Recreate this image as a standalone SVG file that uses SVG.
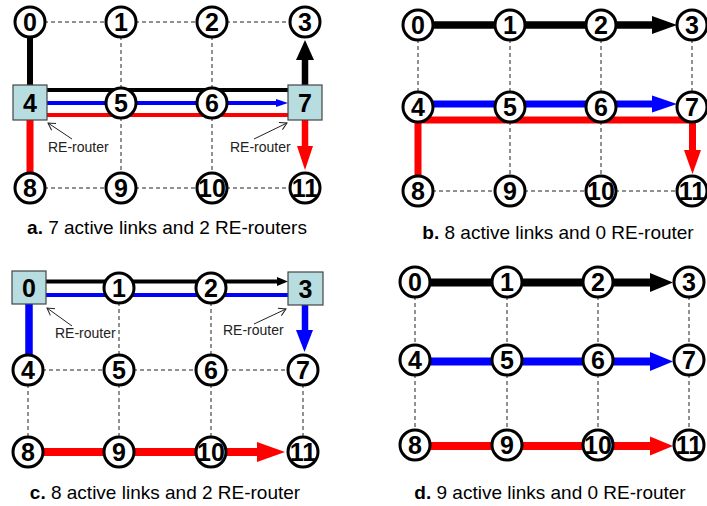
<svg xmlns="http://www.w3.org/2000/svg" width="707" height="506" viewBox="0 0 707 506">
<style>
.bg{fill:#fff}
.n circle{fill:#fff;stroke:#000;stroke-width:3}
.n rect{fill:#B7DDE0;stroke:#444;stroke-width:1.2}
.n text{font-family:"Liberation Sans",Arial,sans-serif;font-weight:bold;font-size:25px;text-anchor:middle;fill:#000}
.d{stroke:#222;stroke-width:1;stroke-dasharray:4,3;fill:none}
.k{stroke:#000;fill:none}
.b{stroke:#0000FF;fill:none}
.r{stroke:#FF0000;fill:none}
.hk{fill:#000}
.hb{fill:#0000FF}
.hr{fill:#FF0000}
.lbl{font-family:"Liberation Sans",Arial,sans-serif;font-size:14px;fill:#222}
.ptr{stroke:#222;stroke-width:1;fill:none;marker-end:url(#open)}
.cap{font-family:"Liberation Sans",Arial,sans-serif;font-size:19px;text-anchor:middle;fill:#000}
</style>
<defs>
<marker id="open" markerUnits="userSpaceOnUse" viewBox="-9 -6 11 12" refX="0" refY="0" markerWidth="11" markerHeight="12" orient="auto">
<path d="M-7,-4 L0,0 L-7,4" fill="none" stroke="#222" stroke-width="1"/>
</marker>
</defs>
<rect class="bg" x="0" y="0" width="707" height="506"/>

<!-- ===== Panel a ===== -->
<g id="panel-a">
<g id="a-connectors">
<line class="d" x1="30" y1="22" x2="121" y2="22"/>
<line class="d" x1="121" y1="22" x2="212" y2="22"/>
<line class="d" x1="212" y1="22" x2="305" y2="22"/>
<line class="d" x1="121" y1="22" x2="121" y2="103"/>
<line class="d" x1="212" y1="22" x2="212" y2="103"/>
<line class="d" x1="121" y1="103" x2="121" y2="188"/>
<line class="d" x1="212" y1="103" x2="212" y2="188"/>
<line class="d" x1="30" y1="188" x2="121" y2="188"/>
<line class="d" x1="121" y1="188" x2="212" y2="188"/>
<line class="d" x1="212" y1="188" x2="305" y2="188"/>
<line class="k" stroke-width="6" x1="30" y1="36" x2="30" y2="86"/>
<line class="k" stroke-width="4" x1="47" y1="90" x2="288" y2="90"/>
<line class="b" stroke-width="4" x1="47" y1="103" x2="277" y2="103"/>
<polygon class="hb" points="276,99 288,103 276,107"/>
<line class="r" stroke-width="4" x1="47" y1="115" x2="288" y2="115"/>
<line class="k" stroke-width="6.5" x1="305" y1="86" x2="305" y2="59"/>
<polygon class="hk" points="296,60 305,40 314,60"/>
<line class="r" stroke-width="7" x1="30" y1="119" x2="30" y2="174"/>
<line class="r" stroke-width="6.5" x1="305" y1="119" x2="305" y2="147"/>
<polygon class="hr" points="297,146 313,146 305,170"/>
<line class="ptr" x1="72" y1="139" x2="48" y2="123"/>
<line class="ptr" x1="254" y1="139" x2="287" y2="123"/>
</g>
<g id="a-n0" class="n"><circle cx="30" cy="22" r="15"/><text x="30" y="31">0</text></g>
<g id="a-n1" class="n"><circle cx="121" cy="22" r="15"/><text x="121" y="31">1</text></g>
<g id="a-n2" class="n"><circle cx="212" cy="22" r="15"/><text x="212" y="31">2</text></g>
<g id="a-n3" class="n"><circle cx="305" cy="22" r="15"/><text x="305" y="31">3</text></g>
<g id="a-n4" class="n"><rect x="13" y="85" width="34" height="35"/><text x="30" y="112">4</text></g>
<g id="a-n5" class="n"><circle cx="121" cy="103" r="15"/><text x="121" y="112">5</text></g>
<g id="a-n6" class="n"><circle cx="212" cy="103" r="15"/><text x="212" y="112">6</text></g>
<g id="a-n7" class="n"><rect x="288" y="85" width="34" height="35"/><text x="305" y="112">7</text></g>
<g id="a-n8" class="n"><circle cx="30" cy="188" r="15"/><text x="30" y="197">8</text></g>
<g id="a-n9" class="n"><circle cx="121" cy="188" r="15"/><text x="121" y="197">9</text></g>
<g id="a-n10" class="n"><circle cx="212" cy="188" r="15"/><text x="212" y="197">10</text></g>
<g id="a-n11" class="n"><circle cx="305" cy="188" r="15"/><text x="305" y="197">11</text></g>
<text class="lbl" x="48" y="152">RE-router</text>
<text class="lbl" x="230" y="152">RE-router</text>
<text class="cap" x="167" y="234"><tspan font-weight="bold">a.</tspan> 7 active links and 2 RE-routers</text>
</g>

<!-- ===== Panel b ===== -->
<g id="panel-b">
<g id="b-connectors">
<line class="d" x1="418" y1="25" x2="418" y2="107"/>
<line class="d" x1="510" y1="25" x2="510" y2="107"/>
<line class="d" x1="601" y1="25" x2="601" y2="107"/>
<line class="d" x1="692" y1="25" x2="692" y2="107"/>
<line class="d" x1="510" y1="107" x2="510" y2="191"/>
<line class="d" x1="601" y1="107" x2="601" y2="191"/>
<line class="d" x1="418" y1="191" x2="510" y2="191"/>
<line class="d" x1="510" y1="191" x2="601" y2="191"/>
<line class="d" x1="601" y1="191" x2="692" y2="191"/>
<line class="k" stroke-width="7.5" x1="418" y1="25" x2="653" y2="25"/>
<polygon class="hk" points="652,16 677,25 652,34"/>
<line class="b" stroke-width="7" x1="418" y1="104" x2="653" y2="104"/>
<polygon class="hb" points="652,95.5 677,104 652,112.5"/>
<path class="r" stroke-width="7" stroke-linejoin="miter" d="M418,177 L418,120 L692.5,120 L692.5,151"/>
<polygon class="hr" points="684,150 701,150 692.5,174"/>
</g>
<g id="b-n0" class="n"><circle cx="418" cy="25" r="15"/><text x="418" y="34">0</text></g>
<g id="b-n1" class="n"><circle cx="510" cy="25" r="15"/><text x="510" y="34">1</text></g>
<g id="b-n2" class="n"><circle cx="601" cy="25" r="15"/><text x="601" y="34">2</text></g>
<g id="b-n3" class="n"><circle cx="692" cy="25" r="15"/><text x="692" y="34">3</text></g>
<g id="b-n4" class="n"><circle cx="418" cy="107" r="15"/><text x="418" y="116">4</text></g>
<g id="b-n5" class="n"><circle cx="510" cy="107" r="15"/><text x="510" y="116">5</text></g>
<g id="b-n6" class="n"><circle cx="601" cy="107" r="15"/><text x="601" y="116">6</text></g>
<g id="b-n7" class="n"><circle cx="692" cy="107" r="15"/><text x="692" y="116">7</text></g>
<g id="b-n8" class="n"><circle cx="418" cy="191" r="15"/><text x="418" y="200">8</text></g>
<g id="b-n9" class="n"><circle cx="510" cy="191" r="15"/><text x="510" y="200">9</text></g>
<g id="b-n10" class="n"><circle cx="601" cy="191" r="15"/><text x="601" y="200">10</text></g>
<g id="b-n11" class="n"><circle cx="692" cy="191" r="15"/><text x="692" y="200">11</text></g>
<text class="cap" x="558" y="239"><tspan font-weight="bold">b.</tspan> 8 active links and 0 RE-router</text>
</g>

<!-- ===== Panel c ===== -->
<g id="panel-c">
<g id="c-connectors">
<line class="d" x1="28" y1="370" x2="119" y2="370"/>
<line class="d" x1="119" y1="370" x2="211" y2="370"/>
<line class="d" x1="211" y1="370" x2="303" y2="370"/>
<line class="d" x1="119" y1="288" x2="119" y2="370"/>
<line class="d" x1="211" y1="288" x2="211" y2="370"/>
<line class="d" x1="28" y1="370" x2="28" y2="452"/>
<line class="d" x1="119" y1="370" x2="119" y2="452"/>
<line class="d" x1="211" y1="370" x2="211" y2="452"/>
<line class="d" x1="303" y1="370" x2="303" y2="452"/>
<line class="k" stroke-width="4" x1="46" y1="281.5" x2="278" y2="281.5"/>
<polygon class="hk" points="277,277 288,281.5 277,286"/>
<line class="b" stroke-width="4" x1="46" y1="295" x2="288" y2="295"/>
<line class="b" stroke-width="7.5" x1="29" y1="303" x2="29" y2="357"/>
<line class="b" stroke-width="6.5" x1="305" y1="305" x2="305" y2="331"/>
<polygon class="hb" points="296,330 313,330 304.5,352"/>
<line class="r" stroke-width="8" x1="28" y1="452" x2="258" y2="452"/>
<polygon class="hr" points="257,442 285,452 257,462"/>
<line class="ptr" x1="72" y1="326" x2="47" y2="308"/>
<line class="ptr" x1="254" y1="324" x2="286" y2="309"/>
</g>
<g id="c-n0" class="n"><rect x="12" y="271" width="34" height="33"/><text x="29" y="296.5">0</text></g>
<g id="c-n1" class="n"><circle cx="119" cy="288" r="15"/><text x="119" y="297">1</text></g>
<g id="c-n2" class="n"><circle cx="211" cy="288" r="15"/><text x="211" y="297">2</text></g>
<g id="c-n3" class="n"><rect x="288" y="272" width="35" height="33"/><text x="305.5" y="297.5">3</text></g>
<g id="c-n4" class="n"><circle cx="28" cy="370" r="15"/><text x="28" y="379">4</text></g>
<g id="c-n5" class="n"><circle cx="119" cy="370" r="15"/><text x="119" y="379">5</text></g>
<g id="c-n6" class="n"><circle cx="211" cy="370" r="15"/><text x="211" y="379">6</text></g>
<g id="c-n7" class="n"><circle cx="303" cy="370" r="15"/><text x="303" y="379">7</text></g>
<g id="c-n8" class="n"><circle cx="28" cy="452" r="15"/><text x="28" y="461">8</text></g>
<g id="c-n9" class="n"><circle cx="119" cy="452" r="15"/><text x="119" y="461">9</text></g>
<g id="c-n10" class="n"><circle cx="211" cy="452" r="15"/><text x="211" y="461">10</text></g>
<g id="c-n11" class="n"><circle cx="303" cy="452" r="15"/><text x="303" y="461">11</text></g>
<text class="lbl" x="55" y="338">RE-router</text>
<text class="lbl" x="223" y="335">RE-router</text>
<text class="cap" x="165" y="499"><tspan font-weight="bold">c.</tspan> 8 active links and 2 RE-router</text>
</g>

<!-- ===== Panel d ===== -->
<g id="panel-d">
<g id="d-connectors">
<line class="d" x1="415" y1="282" x2="415" y2="360"/>
<line class="d" x1="507" y1="282" x2="507" y2="360"/>
<line class="d" x1="598" y1="282" x2="598" y2="360"/>
<line class="d" x1="689" y1="282" x2="689" y2="360"/>
<line class="d" x1="415" y1="360" x2="415" y2="445"/>
<line class="d" x1="507" y1="360" x2="507" y2="445"/>
<line class="d" x1="598" y1="360" x2="598" y2="445"/>
<line class="d" x1="689" y1="360" x2="689" y2="445"/>
<line class="k" stroke-width="8" x1="415" y1="282.5" x2="651" y2="282.5"/>
<polygon class="hk" points="650,273 673,282.5 650,292"/>
<line class="b" stroke-width="8" x1="415" y1="361.5" x2="651" y2="361.5"/>
<polygon class="hb" points="650,352 673,361.5 650,371"/>
<line class="r" stroke-width="8" x1="415" y1="446" x2="651" y2="446"/>
<polygon class="hr" points="650,436.5 673,446 650,455.5"/>
</g>
<g id="d-n0" class="n"><circle cx="415" cy="282" r="15"/><text x="415" y="291">0</text></g>
<g id="d-n1" class="n"><circle cx="507" cy="282" r="15"/><text x="507" y="291">1</text></g>
<g id="d-n2" class="n"><circle cx="598" cy="282" r="15"/><text x="598" y="291">2</text></g>
<g id="d-n3" class="n"><circle cx="689" cy="282" r="15"/><text x="689" y="291">3</text></g>
<g id="d-n4" class="n"><circle cx="415" cy="360" r="15"/><text x="415" y="369">4</text></g>
<g id="d-n5" class="n"><circle cx="507" cy="360" r="15"/><text x="507" y="369">5</text></g>
<g id="d-n6" class="n"><circle cx="598" cy="360" r="15"/><text x="598" y="369">6</text></g>
<g id="d-n7" class="n"><circle cx="689" cy="360" r="15"/><text x="689" y="369">7</text></g>
<g id="d-n8" class="n"><circle cx="415" cy="445" r="15"/><text x="415" y="454">8</text></g>
<g id="d-n9" class="n"><circle cx="507" cy="445" r="15"/><text x="507" y="454">9</text></g>
<g id="d-n10" class="n"><circle cx="598" cy="445" r="15"/><text x="598" y="454">10</text></g>
<g id="d-n11" class="n"><circle cx="689" cy="445" r="15"/><text x="689" y="454">11</text></g>
<text class="cap" x="550" y="499"><tspan font-weight="bold">d.</tspan> 9 active links and 0 RE-router</text>
</g>
</svg>
